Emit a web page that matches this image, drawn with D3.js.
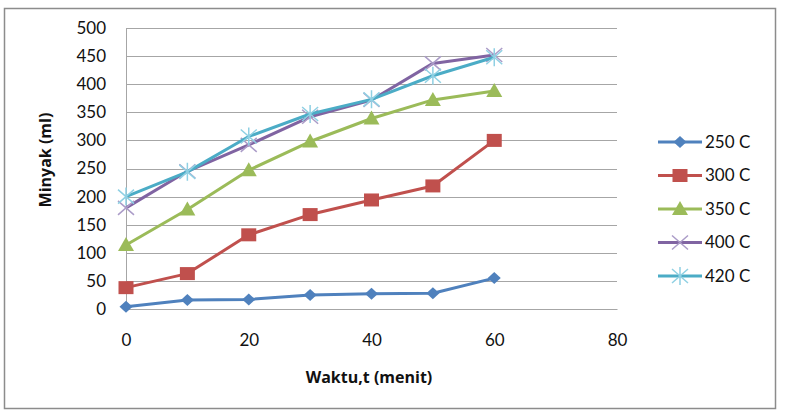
<!DOCTYPE html>
<html>
<head>
<meta charset="utf-8">
<script src="https://cdn.jsdelivr.net/npm/d3@7"></script>
<style>
  body { margin: 0; background: #fff; }
  svg text { font-family: Lato, "Open Sans", sans-serif; fill: #111; }
</style>
</head>
<body>
<div id="chart"></div>
<script>
const WIDTH = 790, HEIGHT = 414
const MARGIN = { top: 28, right: 173, bottom: 105, left: 126 }

const times = [0, 10, 20, 30, 40, 50, 60]
const seriesNames = ['250 C', '300 C', '350 C', '400 C', '420 C']
const v250 = [4, 16, 17, 25, 27, 28, 55]
const v300 = [38, 63, 132, 168, 194, 219, 300]
const v350 = [114, 177, 247, 298, 339, 372, 388]
const v400 = [180, 245, 292, 342, 372, 437, 452]
const v420 = [200, 244, 307, 347, 373, 415, 448]
const xTicks = [0, 20, 40, 60, 80]
const yTicks = [0, 50, 100, 150, 200, 250, 300, 350, 400, 450, 500]

const colors = ['#4f81bd', '#c0504d', '#9bbb59', '#8064a2', '#4bacc6']
const shapes = ['diamond', 'square', 'triangle', 'x', 'star']

const seriesValues = [v250, v300, v350, v400, v420]
const series = seriesNames.map((name, i) => ({
  name, color: colors[i], shape: shapes[i],
  points: times.map((t, j) => ({ t, v: seriesValues[i][j] }))
}))

const W = WIDTH - MARGIN.left - MARGIN.right
const H = HEIGHT - MARGIN.top - MARGIN.bottom
const FONT = '17px'

const svg = d3.select('#chart').append('svg').attr('width', WIDTH).attr('height', HEIGHT)

// outer chart border
svg.append('rect').attr('x', 4.5).attr('y', 8.5).attr('width', 771).attr('height', 400)
  .attr('fill', '#fff').attr('stroke', '#8c8c8c').attr('stroke-width', 1.5)

const g = svg.append('g').attr('transform', `translate(${MARGIN.left},${MARGIN.top})`)

const x = d3.scaleLinear().domain([0, 80]).range([0, W])
const y = d3.scaleLinear().domain([0, 500]).range([H, 0])

// gridlines
g.append('g').selectAll('line').data(yTicks.filter(d => d > 0)).join('line')
  .attr('x1', 0).attr('x2', W)
  .attr('y1', d => Math.round(y(d)) + 0.5).attr('y2', d => Math.round(y(d)) + 0.5)
  .attr('stroke', '#a6a6a6').attr('stroke-width', 1)

// axes
const gx = g.append('g').attr('transform', `translate(0,${H})`)
  .call(d3.axisBottom(x).tickValues(xTicks).tickSize(0).tickPadding(25))
gx.select('.domain').attr('stroke', '#a6a6a6')
gx.selectAll('text').style('font-size', FONT).style('font-family', 'Lato, sans-serif').attr('fill', '#111')

const gy = g.append('g')
  .call(d3.axisLeft(y).tickValues(yTicks).tickSize(0).tickPadding(20))
gy.select('.domain').attr('stroke', '#a6a6a6')
gy.selectAll('text').style('font-size', FONT).style('font-family', 'Lato, sans-serif').attr('fill', '#111')

// axis titles
svg.append('text').attr('x', 369).attr('y', 383).attr('text-anchor', 'middle')
  .style('font-family', '"Open Sans", sans-serif')
  .style('font-size', '16px').style('font-weight', 'bold').text('Waktu,t (menit)')
svg.append('text').attr('transform', 'translate(51,160) rotate(-90)').attr('text-anchor', 'middle')
  .style('font-family', '"Open Sans", sans-serif')
  .style('font-size', '16px').style('font-weight', 'bold').text('Minyak (ml)')

// marker drawing
function drawMarker(sel, shape, color) {
  if (shape === 'diamond') {
    sel.append('path').attr('d', 'M0,-6L6.5,0L0,6L-6.5,0Z').attr('fill', color)
  } else if (shape === 'square') {
    sel.append('rect').attr('x', -7.5).attr('y', -6.5).attr('width', 15).attr('height', 13)
      .attr('fill', color)
  } else if (shape === 'triangle') {
    sel.append('path').attr('d', 'M0,-8L8,6L-8,6Z').attr('fill', color)
  } else if (shape === 'x') {
    sel.append('path').attr('d', 'M-8,-7L8,7M-8,7L8,-7')
      .attr('stroke', '#ab9cc8').attr('stroke-width', 1.5).attr('fill', 'none')
  } else if (shape === 'star') {
    sel.append('path').attr('d', 'M-8,-7L8,7M-8,7L8,-7M0,-9L0,9')
      .attr('stroke', '#8fd0e3').attr('stroke-width', 1.5).attr('fill', 'none')
  }
}

const line = d3.line().x(d => x(d.t)).y(d => y(d.v))

series.forEach(s => {
  const gs = g.append('g')
  gs.append('path').datum(s.points).attr('d', line)
    .attr('fill', 'none').attr('stroke', s.color).attr('stroke-width', 3)
    .attr('stroke-linejoin', 'round')
  gs.selectAll('g.pt').data(s.points).join('g').attr('class', 'pt')
    .attr('transform', d => `translate(${x(d.t)},${y(d.v)})`)
    .each(function () { drawMarker(d3.select(this), s.shape, s.color) })
})

// legend
const legend = svg.append('g').attr('transform', 'translate(658,142)')
series.forEach((s, i) => {
  const row = legend.append('g').attr('transform', `translate(0,${i * 33.5})`)
  row.append('line').attr('x1', 0).attr('x2', 44).attr('y1', 0).attr('y2', 0)
    .attr('stroke', s.color).attr('stroke-width', 3)
  const m = row.append('g').attr('transform', 'translate(22,0)')
  drawMarker(m, s.shape, s.color)
  row.append('text').attr('x', 47).attr('y', 0).attr('dy', '0.35em')
    .style('font-size', FONT).text(s.name)
})
</script>
</body>
</html>
